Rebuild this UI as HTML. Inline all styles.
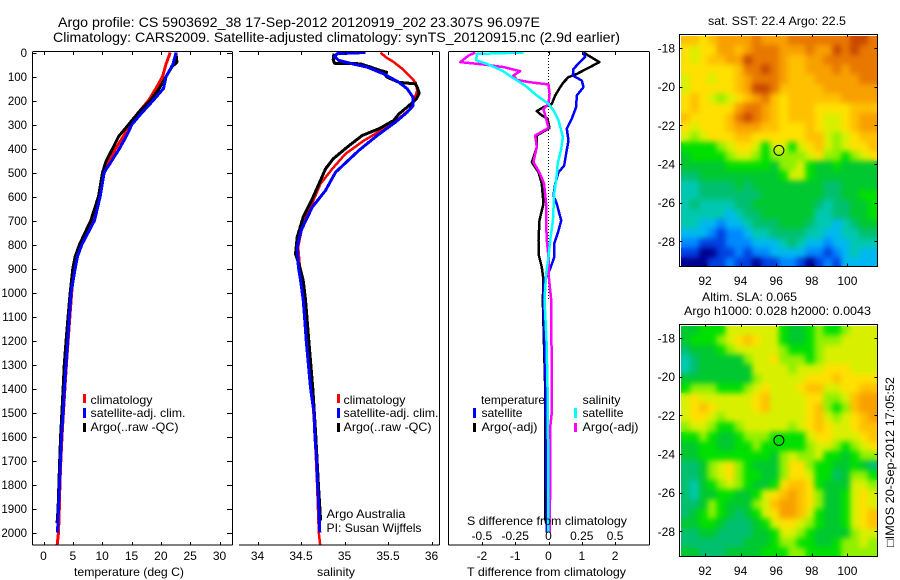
<!DOCTYPE html>
<html>
<head>
<meta charset="utf-8">
<title>Argo profile chart</title>
<style>
html,body{margin:0;padding:0;background:#fff;}
svg{display:block;font-family:"Liberation Sans",sans-serif;font-size:12px;fill:#000;}
text{stroke:none;fill:#000;}
</style>
</head>
<body>
<svg id="chart" width="900" height="580" viewBox="0 0 900 580" xmlns="http://www.w3.org/2000/svg">
<defs>
<filter id="mapSmooth" x="-5%" y="-5%" width="110%" height="110%" color-interpolation-filters="sRGB">
<feGaussianBlur in="SourceGraphic" stdDeviation="3" result="soft"/>
<feMerge><feMergeNode in="SourceGraphic"/><feMergeNode in="soft"/></feMerge>
</filter>
<clipPath id="sstClip"><rect x="681" y="36" width="197" height="230"/></clipPath>
<clipPath id="slaClip"><rect x="681" y="326" width="197" height="230"/></clipPath>
</defs>
<rect x="0" y="0" width="900" height="580" fill="#fff"/>
<g id="maps"></g>
<g id="plots"></g>
<g id="labels">
<text x="58" y="27" font-size="14" textLength="482" lengthAdjust="spacingAndGlyphs">Argo profile: CS 5903692_38 17-Sep-2012 20120919_202 23.307S 96.097E</text>
<text x="53" y="42" font-size="14" textLength="567" lengthAdjust="spacingAndGlyphs">Climatology: CARS2009. Satellite-adjusted climatology: synTS_20120915.nc (2.9d earlier)</text>
<text x="74" y="576" textLength="110" lengthAdjust="spacingAndGlyphs">temperature (deg C)</text>
<text x="317" y="576" textLength="38" lengthAdjust="spacingAndGlyphs">salinity</text>
<text x="467" y="576" textLength="159" lengthAdjust="spacingAndGlyphs">T difference from climatology</text>
<text x="467" y="525" textLength="160" lengthAdjust="spacingAndGlyphs">S difference from climatology</text>
<rect x="83" y="394" width="3" height="9" fill="#f00"/>
<rect x="83" y="408" width="3" height="10" fill="#00f"/>
<rect x="83" y="423" width="3" height="9" fill="#000"/>
<text x="90.5" y="404" textLength="62" lengthAdjust="spacingAndGlyphs">climatology</text>
<text x="90.5" y="417" textLength="95" lengthAdjust="spacingAndGlyphs">satellite-adj. clim.</text>
<text x="90.5" y="431" textLength="88" lengthAdjust="spacingAndGlyphs">Argo(..raw -QC)</text>
<rect x="337" y="394" width="3" height="9" fill="#f00"/>
<rect x="337" y="408" width="3" height="10" fill="#00f"/>
<rect x="337" y="423" width="3" height="9" fill="#000"/>
<text x="343.5" y="404" textLength="62" lengthAdjust="spacingAndGlyphs">climatology</text>
<text x="343.5" y="417" textLength="95" lengthAdjust="spacingAndGlyphs">satellite-adj. clim.</text>
<text x="343.5" y="431" textLength="88" lengthAdjust="spacingAndGlyphs">Argo(..raw -QC)</text>
<text x="326.5" y="518" textLength="79" lengthAdjust="spacingAndGlyphs">Argo Australia</text>
<text x="326.5" y="532" textLength="95" lengthAdjust="spacingAndGlyphs">PI: Susan Wijffels</text>
<text x="481" y="404" textLength="64" lengthAdjust="spacingAndGlyphs">temperature</text>
<text x="481.5" y="417" textLength="41" lengthAdjust="spacingAndGlyphs">satellite</text>
<text x="481.5" y="431" textLength="56" lengthAdjust="spacingAndGlyphs">Argo(-adj)</text>
<rect x="473" y="408" width="3" height="10" fill="#00f"/>
<rect x="473" y="423" width="3" height="9" fill="#000"/>
<text x="582.5" y="404" textLength="38" lengthAdjust="spacingAndGlyphs">salinity</text>
<text x="582.5" y="417" textLength="41" lengthAdjust="spacingAndGlyphs">satellite</text>
<text x="582.5" y="431" textLength="56" lengthAdjust="spacingAndGlyphs">Argo(-adj)</text>
<rect x="574" y="408" width="3" height="10" fill="#0ff"/>
<rect x="574" y="423" width="3" height="9" fill="#f0f"/>
<text x="708" y="25" textLength="138" lengthAdjust="spacingAndGlyphs">sat. SST: 22.4  Argo: 22.5</text>
<text x="702" y="301" textLength="95" lengthAdjust="spacingAndGlyphs">Altim. SLA: 0.065</text>
<text x="684" y="315" textLength="187" lengthAdjust="spacingAndGlyphs">Argo h1000: 0.028 h2000: 0.0043</text>
<text transform="translate(894,547) rotate(-90)" textLength="170" lengthAdjust="spacingAndGlyphs">□IMOS 20-Sep-2012 17:05:52</text>
</g>
</svg>
<script>
// ---------- Profile data (depth in m, temperature deg C, salinity psu) ----------
const tempTicks = [0, 5, 10, 15, 20, 25, 30];
const salTicks = [34, 34.5, 35, 35.5, 36];
const salTickLabels = ['34', '34.5', '35', '35.5', '36'];
const depthTicks = [0,100,200,300,400,500,600,700,800,900,1000,1100,1200,1300,1400,1500,1600,1700,1800,1900,2000];
const tDiffTicks = [-2, -1, 0, 1, 2];
const sDiffTicks = [-0.5, -0.25, 0, 0.25, 0.5];
const sDiffTickLabels = ['-0.5', '-0.25', '0', '0.25', '0.5'];

const tClimDepth = [0,50,100,150,200,250,300,350,400,450,500,600,700,800,850,900,1000,1100,1200,1300,1400,1500,1600,1700,1800,1900,2000,2050];
const tClimVal = [21.6,20.86,20.3,19.15,17.9,16.2,14.8,13.6,12.3,11.2,10.35,9.5,8.2,6.26,5.6,5.2,4.8,4.5,4.2,3.9,3.65,3.4,3.15,2.95,2.8,2.7,2.55,2.33];
const tSatDepth = [0,50,100,150,200,250,300,350,400,450,500,600,700,800,850,900,1000,1100,1200,1300,1400,1500,1600,1700,1800,1900,2000];
const tSatVal = [22.6,22.05,20.9,20.46,18.7,16.8,15.06,14.1,12.95,11.65,10.35,9.66,8.7,6.54,5.8,5.4,4.7,4.4,4.15,3.85,3.58,3.36,3.07,2.9,2.73,2.56,2.39];
const tArgoDepth = [0,40,60,100,150,200,250,300,350,400,450,500,600,700,800,850,900,1000,1100,1200,1300,1400,1500,1600,1700,1800,1900,1960];
const tArgoVal = [22.56,22.73,21.88,20.9,19.72,18.2,16.2,14.5,12.8,11.77,10.7,10.06,9.38,8.07,6.14,5.4,5.0,4.55,4.2,3.85,3.55,3.34,3.14,2.92,2.76,2.62,2.48,2.32];

const sClimDepth = [0,19,40,68,96,124,158,193,228,269,318,367,422,485,547,644,728,811,894,1030,1200,1400,1600,1800,2000,2050];
const sClimVal = [35.414,35.472,35.567,35.663,35.74,35.816,35.836,35.805,35.778,35.644,35.452,35.223,35.012,34.859,34.724,34.61,34.514,34.468,34.487,34.54,34.58,34.625,34.66,34.685,34.705,34.72];
const sSatDepth = [0,5,17,33,47,61,89,124,151,186,221,249,290,346,408,499,575,644,742,811,894,950,1030,1100,1200,1300,1400,1500,1600,1700,1800,1900,2000];
const sSatVal = [35.24,34.916,34.885,34.935,35.09,35.26,35.45,35.625,35.72,35.786,35.79,35.72,35.586,35.376,35.165,34.897,34.782,34.63,34.5,34.456,34.47,34.495,34.525,34.54,34.56,34.585,34.61,34.65,34.66,34.68,34.69,34.705,34.716];
const sArgoDepth = [5,30,45,47,61,75,82,96,103,124,131,144,169,193,228,256,283,318,346,394,443,485,533,617,686,769,839,894,950,1030,1200,1400,1600,1800,1950];
const sArgoVal = [34.878,34.87,34.885,35.184,35.3,35.414,35.483,35.472,35.49,35.625,35.816,35.836,35.859,35.828,35.72,35.625,35.567,35.395,35.203,35.031,34.87,34.782,34.724,34.621,34.525,34.456,34.437,34.487,34.525,34.552,34.59,34.636,34.67,34.7,34.725];

const dTSatDepth = [0,19,40,68,96,117,144,179,228,276,318,367,422,471,499,547,596,631,700,742,797,853,901,950,1031,1400,2000];
const dTSatVal = [1.05,1.1,0.95,0.75,0.73,1.0,1.05,0.85,0.83,0.7,0.55,0.6,0.53,0.47,0.3,0.2,0.15,0.25,0.38,0.3,0.17,0.17,0.05,-0.13,-0.15,-0.08,-0.05];
const dTArgoDepth = [0,13,40,68,89,103,124,144,179,214,228,244,262,276,314,346,394,457,499,547,631,658,700,783,839,894,950,1031,1400,1500,1950];
const dTArgoVal = [1.05,1.2,1.53,1.15,0.85,0.6,0.45,0.35,0.2,0.1,-0.15,-0.35,-0.2,-0.03,0.03,-0.35,-0.35,-0.5,-0.3,-0.2,-0.15,-0.2,-0.27,-0.3,-0.3,-0.2,-0.15,-0.17,-0.1,-0.1,-0.1];
const dSSatDepth = [0,6,33,47,75,103,138,179,214,242,283,353,408,464,506,589,700,783,853,922,1031,1200,1450,2000];
const dSSatVal = [-0.188,-0.538,-0.543,-0.463,-0.35,-0.275,-0.175,-0.088,0,0.038,0.075,0.108,0.093,0.068,0.063,0.043,0.033,0.013,0,-0.018,-0.03,-0.015,-0.005,0];
const dSArgoDepth = [0,13,40,50,61,78,96,114,124,133,172,214,235,276,314,346,394,457,499,547,631,700,783,853,922,1031,1400,1500,1550,2000];
const dSArgoVal = [-0.55,-0.6,-0.663,-0.488,-0.338,-0.213,-0.263,-0.238,-0.138,0,0.008,0,-0.038,-0.018,0,-0.1,-0.088,-0.113,-0.068,-0.033,-0.018,-0.018,-0.013,0,0,0.02,0.025,0.025,0.015,0.01];

// ---------- Map data (colour level per 0.5 degree cell, north to south) ----------
const mapPalette = ['#000090','#0040e0','#0088ff','#00b8f0','#00c8b0','#00c070','#00c830','#00e000','#90f000','#d8f000','#ffe000','#ffc000','#f8a000','#e87800','#c84800'];
const lonTicks = [92, 94, 96, 98, 100];
const latTicks = [-18, -20, -22, -24, -26, -28];
const argoLon = [96.15];
const argoLat = [-23.3];
const sstLevels = [
[11,11,10,11,12,12,12,12,13,12,12,12,13,13,13,13,13,13,13,14,14,13],
[10,9,10,10,12,12,11,12,13,13,13,12,12,12,13,12,12,14,13,14,13,13],
[10,9,10,11,11,12,12,14,13,13,13,12,11,11,12,12,13,13,13,13,13,13],
[10,10,10,10,10,10,11,13,13,14,13,12,11,11,12,12,12,13,12,13,13,13],
[9,10,10,9,10,10,11,12,13,13,13,12,11,11,11,12,12,12,12,12,13,13],
[9,10,10,10,10,10,11,12,14,14,13,11,11,11,11,11,12,12,12,12,12,12],
[10,11,10,9,8,9,10,11,12,13,11,10,11,11,11,11,11,11,12,12,12,12],
[10,11,10,10,10,10,12,13,13,12,11,10,11,11,11,10,10,10,10,11,11,11],
[11,10,10,10,10,11,13,14,13,12,11,10,11,11,11,10,9,9,10,11,12,12],
[10,9,10,10,10,11,12,12,12,11,11,10,10,10,11,10,9,9,10,11,12,12],
[9,8,9,10,10,10,11,11,10,10,10,10,10,10,11,11,9,8,9,10,11,11],
[7,7,7,7,8,9,10,10,9,7,9,9,7,9,10,11,9,8,9,10,10,11],
[6,7,7,7,7,8,9,9,8,7,8,8,8,8,9,10,8,8,7,8,9,10],
[6,6,6,6,6,7,7,7,7,7,6,8,8,9,7,6,6,7,6,6,6,6],
[5,5,6,6,6,6,6,6,6,6,6,7,9,9,7,6,6,6,6,6,6,6],
[4,4,5,5,5,5,6,5,6,6,6,6,6,6,6,6,5,5,6,6,6,6],
[4,4,5,5,5,5,5,5,5,6,6,6,6,6,6,6,5,5,6,6,7,7],
[4,5,4,4,4,4,5,5,6,6,6,6,6,6,6,5,4,5,5,6,6,7],
[4,4,4,4,4,3,4,5,5,6,6,6,6,6,6,4,4,5,5,6,6,7],
[4,4,3,3,2,3,3,4,5,5,5,6,6,6,5,4,4,3,4,5,6,6],
[3,3,3,2,1,2,2,3,4,4,5,5,5,5,4,4,3,3,4,4,5,5],
[2,2,1,1,1,2,2,2,3,3,3,4,5,4,3,3,2,3,3,4,4,4],
[1,1,0,0,1,1,2,1,2,2,3,3,3,3,2,2,1,2,3,4,3,3],
[0,0,0,1,1,2,1,1,0,1,1,2,2,1,0,1,2,1,3,3,3,3]
];
const slaLevels = [
[6,6,7,7,7,9,9,9,9,9,9,7,6,6,7,8,7,7,8,9,9,9],
[6,7,7,7,8,9,10,11,10,9,9,7,6,6,7,8,8,8,9,9,9,9],
[5,6,6,6,7,8,9,9,9,9,9,8,7,7,7,8,9,9,9,9,9,9],
[4,5,6,6,6,6,6,8,9,9,10,8,8,8,7,8,9,9,9,9,9,9],
[4,5,6,6,6,6,6,6,9,9,9,9,8,9,9,9,10,10,10,9,9,9],
[6,6,6,6,6,6,6,6,8,9,9,9,9,9,10,10,10,11,10,10,10,10],
[7,8,8,8,7,7,7,8,9,10,9,9,9,10,11,11,9,9,10,10,11,11],
[9,10,9,9,9,9,9,9,10,11,9,9,9,9,10,10,8,8,9,11,12,12],
[9,10,11,10,9,9,9,9,10,11,9,9,9,9,10,11,8,7,8,11,12,12],
[9,10,10,9,8,9,9,9,9,9,9,9,9,9,10,11,9,8,9,10,11,12],
[8,9,9,8,7,7,8,9,9,9,9,9,8,9,10,11,10,9,9,10,11,11],
[7,7,8,7,6,6,7,8,8,8,7,7,7,7,9,10,10,9,9,9,10,11],
[6,6,7,7,6,6,7,7,8,7,7,7,7,7,8,9,9,8,7,8,9,10],
[6,6,7,7,7,7,7,7,7,7,6,8,9,8,8,9,7,7,6,7,8,8],
[5,5,6,8,9,10,8,7,6,6,6,8,10,10,8,7,7,6,6,7,6,5],
[5,5,6,8,9,10,8,7,7,6,6,8,10,10,9,7,7,5,6,8,8,7],
[5,4,6,7,8,9,8,7,6,6,7,10,11,11,10,7,6,6,6,9,9,8],
[5,4,6,6,7,7,6,6,7,9,10,11,12,11,10,8,6,6,7,9,10,9],
[5,5,6,8,7,6,6,6,8,9,11,12,12,11,10,8,6,6,7,9,10,9],
[5,6,7,8,7,6,5,6,7,9,10,12,12,11,9,7,6,6,7,9,10,11],
[6,6,7,7,6,5,5,5,6,7,9,10,10,9,8,7,6,6,7,9,10,11],
[5,5,6,6,5,5,5,5,6,6,7,9,9,8,7,6,6,6,6,8,9,9],
[5,5,5,5,5,5,5,6,6,6,7,8,8,7,7,6,6,7,8,8,9,8],
[6,6,5,5,5,6,6,6,6,7,7,7,8,8,7,7,7,7,8,8,8,8]
];

// ---------- Drawing ----------
const NS = 'http://www.w3.org/2000/svg';
const plots = document.getElementById('plots');
const maps = document.getElementById('maps');

function mk(parent, tag, name, attrs) {
  const el = document.createElementNS(NS, tag);
  
  
  for (const k in attrs) el.setAttribute(k, attrs[k]);
  parent.appendChild(el);
  return el;
}
function seg(parent, name, x1, y1, x2, y2) {
  return mk(parent, 'line', name, {x1: x1, y1: y1, x2: x2, y2: y2, stroke: '#000', 'stroke-width': 1, 'shape-rendering': 'crispEdges'});
}
function label(parent, name, x, y, str, anchor, fs) {
  const t = mk(parent, 'text', name, {x: x, y: y, 'text-anchor': anchor, 'font-size': fs || 12});
  t.textContent = str;
  return t;
}

const yTop = 52, yBot = 545;
const depthY = d => 52.5 + d * 0.24;
const tempX = v => 43.5 + v * 5.867;
const salX = v => 257.5 + (v - 34) * 87;
const dTX = v => 548.5 + v * 33.3;
const dSX = v => 548.5 + v * 133.2;

function curve(parent, name, depths, vals, xf, color, width) {
  const pts = depths.map((d, i) => xf(vals[i]).toFixed(1) + ',' + depthY(d).toFixed(1)).join(' ');
  return mk(parent, 'polyline', name, {points: pts, fill: 'none', stroke: color, 'stroke-width': width, 'stroke-linejoin': 'round', 'shape-rendering': 'crispEdges'});
}

// Temperature panel
const p1 = mk(plots, 'g', 'temperature-panel', {});
curve(p1, 'temperature-climatology-line', tClimDepth, tClimVal, tempX, '#f00', 3);
curve(p1, 'temperature-argo-line', tArgoDepth, tArgoVal, tempX, '#000', 3);
curve(p1, 'temperature-satellite-line', tSatDepth, tSatVal, tempX, '#00f', 3);
seg(p1, 'temperature-frame-left', 32.5, yTop, 32.5, yBot);
seg(p1, 'temperature-frame-right', 232.5, yTop, 232.5, yBot);
seg(p1, 'temperature-frame-top', 32.5, yTop - 0.5, 232.5, yTop - 0.5);
seg(p1, 'temperature-frame-bottom', 32.5, yBot, 232.5, yBot);
tempTicks.forEach(v => {
  const x = Math.round(tempX(v)) + 0.5;
  seg(p1, 'temperature-tick-top', x, yTop, x, yTop + 3);
  seg(p1, 'temperature-tick-bottom', x, yBot - 3, x, yBot);
  label(p1, 'temperature-tick-label', tempX(v), 560, String(v), 'middle');
});
depthTicks.forEach(d => {
  const y = Math.round(depthY(d)) + 0.5;
  seg(p1, 'depth-tick-left', 32.5, y, 36.5, y);
  seg(p1, 'depth-tick-right', 227, y, 232.5, y);
  label(p1, 'depth-tick-label', 27, depthY(d) + 4.5, String(d), 'end', 11.5);
});

// Salinity panel
const p2 = mk(plots, 'g', 'salinity-panel', {});
curve(p2, 'salinity-climatology-line', sClimDepth, sClimVal, salX, '#f00', 2.5);
curve(p2, 'salinity-argo-line', sArgoDepth, sArgoVal, salX, '#000', 3);
curve(p2, 'salinity-satellite-line', sSatDepth, sSatVal, salX, '#00f', 3);
seg(p2, 'salinity-frame-right', 439.5, yTop, 439.5, yBot);
seg(p2, 'salinity-frame-top', 239, yTop - 0.5, 439.5, yTop - 0.5);
seg(p2, 'salinity-frame-bottom', 239, yBot, 439.5, yBot);
salTicks.forEach((v, i) => {
  const x = Math.round(salX(v)) + 0.5;
  seg(p2, 'salinity-tick-top', x, yTop, x, yTop + 3);
  seg(p2, 'salinity-tick-bottom', x, yBot - 3, x, yBot);
  label(p2, 'salinity-tick-label', salX(v), 560, salTickLabels[i], 'middle');
});

// Difference panel
const p3 = mk(plots, 'g', 'difference-panel', {});
mk(p3, 'line', 'zero-difference-line', {x1: 548.5, y1: yTop, x2: 548.5, y2: 300, stroke: '#000', 'stroke-width': 1, 'stroke-dasharray': '1 2', 'shape-rendering': 'crispEdges'});
curve(p3, 'temp-diff-argo-line', dTArgoDepth, dTArgoVal, dTX, '#000', 2.5);
curve(p3, 'temp-diff-satellite-line', dTSatDepth, dTSatVal, dTX, '#00f', 2.5);
curve(p3, 'sal-diff-argo-line', dSArgoDepth, dSArgoVal, dSX, '#f0f', 2.5);
curve(p3, 'sal-diff-satellite-line', dSSatDepth, dSSatVal, dSX, '#0ff', 2.5);
seg(p3, 'difference-frame-left', 448.5, yTop, 448.5, yBot);
seg(p3, 'difference-frame-right', 649.5, yTop, 649.5, yBot);
seg(p3, 'difference-frame-top', 448.5, yTop - 0.5, 649.5, yTop - 0.5);
seg(p3, 'difference-frame-bottom', 448.5, yBot, 649.5, yBot);
tDiffTicks.forEach(v => {
  const x = Math.round(dTX(v)) + 0.5;
  seg(p3, 'difference-tick-top', x, yTop, x, yTop + 3);
  seg(p3, 'difference-tick-bottom', x, yBot - 3, x, yBot);
  label(p3, 't-difference-tick-label', dTX(v), 560, String(v), 'middle');
});
sDiffTicks.forEach((v, i) => {
  label(p3, 's-difference-tick-label', dSX(v), 540, sDiffTickLabels[i], 'middle');
});

// Maps
function drawMap(name, levels, top, labelY, clipId) {
  const g = mk(maps, 'g', name, {});
  const bottom = top + 232.5;
  const lonX = lon => 705 + (lon - 92) * 17.8;
  const latY = lat => top + 14 + (-18 - lat) * 19.33;
  const lon0 = 90.65, lat0 = -17.35, dCell = 0.5;
  const clipG = mk(g, 'g', name + '-clip', {'clip-path': 'url(#' + clipId + ')'});
  const cells = mk(clipG, 'g', name + '-cells', {filter: 'url(#mapSmooth)'});
  levels.forEach((row, j) => {
    row.forEach((lev, i) => {
      const x0 = lonX(lon0 + i * dCell), x1 = lonX(lon0 + (i + 1) * dCell);
      const y0 = latY(lat0 - j * dCell), y1 = latY(lat0 - (j + 1) * dCell);
      mk(cells, 'rect', name + '-cell', {x: x0.toFixed(1), y: y0.toFixed(1), width: (x1 - x0 + 0.3).toFixed(1), height: (y1 - y0 + 0.3).toFixed(1), fill: mapPalette[lev], 'shape-rendering': 'crispEdges'});
    });
  });
  mk(g, 'rect', name + '-frame', {x: 679.5, y: top + 0.5, width: 198, height: 232, fill: 'none', stroke: '#000', 'stroke-width': 1, 'shape-rendering': 'crispEdges'});
  lonTicks.forEach(v => {
    const x = Math.round(lonX(v)) + 0.5;
    seg(g, name + '-lon-tick-top', x, top, x, top + 3);
    seg(g, name + '-lon-tick-bottom', x, bottom - 3, x, bottom);
    label(g, name + '-lon-label', lonX(v), labelY, String(v), 'middle');
  });
  latTicks.forEach(v => {
    const y = Math.round(latY(v)) + 0.5;
    seg(g, name + '-lat-tick-left', 679.5, y, 682.5, y);
    seg(g, name + '-lat-tick-right', 874.5, y, 877.5, y);
    label(g, name + '-lat-label', 675, latY(v) + 4.5, String(v), 'end');
  });
  mk(g, 'circle', name + '-argo-position', {cx: lonX(argoLon[0]).toFixed(1), cy: latY(argoLat[0]).toFixed(1), r: 5, fill: 'none', stroke: '#000', 'stroke-width': 1});
}
drawMap('sst-map', sstLevels, 34, 285, 'sstClip');
drawMap('sla-map', slaLevels, 324, 575, 'slaClip');
</script>
</body>
</html>
